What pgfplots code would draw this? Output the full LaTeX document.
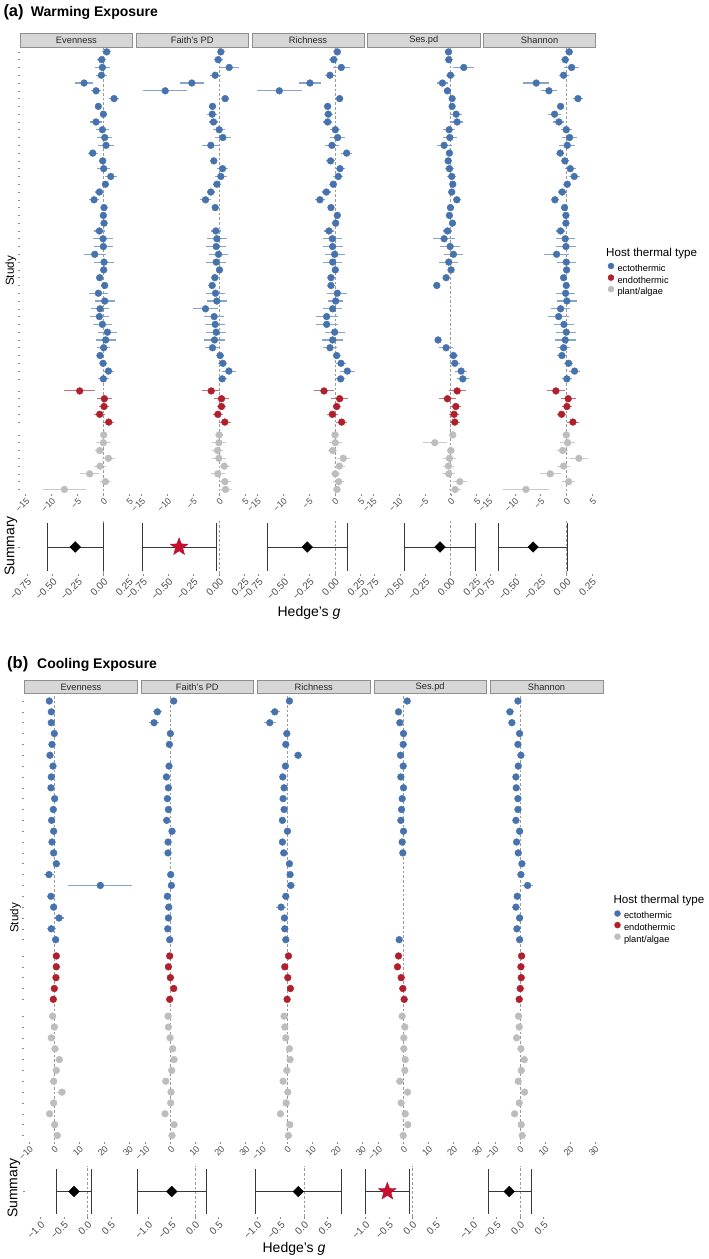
\documentclass[border=0pt]{standalone}
\usepackage{pgfplots}
\pgfplotsset{compat=1.18}
\usepackage{pgfplotstable}
\usepackage{fontspec}
\setmainfont{Liberation Sans}

\definecolor{ecto}{HTML}{4673AE}
\definecolor{endo}{HTML}{B0202C}
\definecolor{plant}{HTML}{BDBDBD}
\definecolor{stripfill}{HTML}{D6D6D6}
\definecolor{stripdraw}{HTML}{8F8F8F}
\definecolor{tickc}{HTML}{4D4D4D}
\definecolor{zeroc}{HTML}{9A9A9A}
\definecolor{starc}{HTML}{C8102E}

\pgfdeclareplotmark{fstar}{%
 \pgfpathmoveto{\pgfpointpolar{90}{\pgfplotmarksize}}%
 \pgfpathlineto{\pgfpointpolar{126}{0.42\pgfplotmarksize}}%
 \pgfpathlineto{\pgfpointpolar{162}{\pgfplotmarksize}}%
 \pgfpathlineto{\pgfpointpolar{198}{0.42\pgfplotmarksize}}%
 \pgfpathlineto{\pgfpointpolar{234}{\pgfplotmarksize}}%
 \pgfpathlineto{\pgfpointpolar{270}{0.42\pgfplotmarksize}}%
 \pgfpathlineto{\pgfpointpolar{306}{\pgfplotmarksize}}%
 \pgfpathlineto{\pgfpointpolar{342}{0.42\pgfplotmarksize}}%
 \pgfpathlineto{\pgfpointpolar{18}{\pgfplotmarksize}}%
 \pgfpathlineto{\pgfpointpolar{54}{0.42\pgfplotmarksize}}%
 \pgfpathclose
 \pgfusepathqfillstroke}

\pgfplotsset{
  fbase/.style={scale only axis, anchor=north west, axis line style={draw=none},
    tick style={draw=black!45, line width=0.5pt}, major tick length=2.2pt, tick align=outside,
    xtick pos=bottom, ytick pos=left, ytick=\empty, yticklabels={},
    xticklabel style={rotate=45, anchor=north east, inner sep=0.6pt, text=tickc},
    every axis title/.style={at={(0.5,1)}, anchor=south, yshift=0.35pt, fill=stripfill, draw=stripdraw, line width=0.7pt, inner sep=0pt, minimum height=13.8pt, font=\fontsize{9.3}{10}\selectfont, text=black!85}},
  forestA/.style={fbase, width=112.8pt, height=446.1pt, xmin=-16.1, xmax=5.68, ymin=-57.8, ymax=-0.5,
    xtick={-15,-10,-5,0,5}, xticklabels={−15,−10,−5,0,5}, xticklabel style={font=\fontsize{9}{10}\selectfont},
    every axis title/.append style={minimum width=112.1pt}},
  forestB/.style={fbase, width=113.3pt, height=447.3pt, xmin=-12, xmax=33.3, ymin=-41.63, ymax=-0.4,
    xtick={-10,0,10,20,30}, xticklabels={−10,0,10,20,30}, xticklabel style={font=\fontsize{9}{10}\selectfont},
    every axis title/.append style={minimum width=112.6pt}},
  summA/.style={fbase, width=112.8pt, height=54pt, xmin=-0.82, xmax=0.29, ymin=0.5, ymax=1.5,
    xtick={-0.75,-0.5,-0.25,0,0.25}, xticklabels={−0.75,−0.50,−0.25,0.00,0.25}, xticklabel style={font=\fontsize{10}{11}\selectfont}},
  summB/.style={fbase, width=104.3pt, height=51pt, xmin=-1.32, xmax=0.90, ymin=0.5, ymax=1.5,
    xtick={-1,-0.5,0,0.5}, xticklabels={−1.0,−0.5,0.0,0.5}, xticklabel style={font=\fontsize{10}{11}\selectfont}},
  zeroline/.style={forget plot, draw=zeroc, line width=0.7pt, dash pattern=on 2.6pt off 2pt},
  ci/.style={forget plot, draw=none, mark=none, error bars/x dir=both, error bars/x explicit,
    error bars/error mark=none, error bars/error bar style={draw=#1, line width=1.1pt, solid}},
  pt/.style={forget plot, only marks, color=#1, mark=*, mark size=3.4pt, mark options={draw=none, fill=#1}},
  sumline/.style={forget plot, draw=black!78, line width=1pt},
  diam/.style={forget plot, only marks, color=black, mark=square*, mark size=3.75pt, mark options={rotate=45, fill=black, draw=black}},
  starm/.style={forget plot, only marks, color=starc, mark=fstar, mark size=9.2pt, mark options={fill=starc, draw=starc!85!black, line width=0.4pt}},
  legbox/.style={hide axis, scale only axis, width=1pt, height=1pt, anchor=north west, xmin=0, xmax=1, ymin=0, ymax=1,
    legend style={at={(0,1)}, anchor=north west, draw=none, fill=none, inner sep=0pt, outer sep=0pt, row sep=0.8pt,
      font=\fontsize{9.3}{10}\selectfont, nodes={inner sep=0.5pt, text height=6.7pt, text depth=1.9pt},
      /tikz/every odd column/.style={column sep=3pt}},
    legend cell align=left,
    legend image code/.code={\draw[##1] plot coordinates {(3pt,3pt)};}},
}

% ---------- (a) Warming: y, Evenness, Faith's PD, Richness, Ses.pd, Shannon (estimate, half CI)
\pgfplotstableread{
y ev eve fa fae ri rie se see sh she
-1 0.64 0.9 0.32 0.8 0.45 0.8 -0.45 0.75 0.51 0.75
-2 -0.32 0.9 -0.19 0.9 -0.26 0.8 -0.39 0.8 -0.26 0.8
-3 -0.19 1.4 1.93 1.8 1.22 1.6 2.51 2.0 0.97 1.5
-4 -0.39 1.0 -0.77 1.05 -0.97 0.95 -0.06 0.8 -0.58 0.95
-5 -3.73 1.7 -5.28 2.3 -4.83 2.15 -1.61 1.0 -5.86 2.5
-6 -1.42 1.0 -10.42 4.2 -10.75 4.4 -0.64 0.75 -3.41 1.6
-7 2.06 1.0 1.16 0.75 0.9 0.7 0.26 0.6 2.19 1.0
-8 -0.97 0.6 -1.29 0.6 -1.42 0.65 0.26 0.6 -1.16 0.65
-9 0 0.6 -1.35 1.0 -1.29 0.85 1.03 1.2 -2.32 1.2
-10 -1.42 1.1 -1.09 0.8 -1.42 0.9 1.22 1.1 -1.48 1.05
-11 -0.19 1.2 0 1.1 0.06 1.0 -0.32 1.2 -0.06 1.05
-12 0.26 1.5 0.71 1.6 0.51 1.5 -0.19 1.35 0.58 1.45
-13 0.51 1.55 -1.61 1.7 -0.58 1.4 -1.29 1.45 0.13 1.5
-14 -2.06 1.0 nan nan 2.25 1.0 -0.26 0.65 -1.22 0.8
-15 -0.13 0.65 -1.03 0.65 -0.84 0.8 -0.51 0.65 -0.32 0.8
-16 0.06 1.2 0.64 1.1 0.97 1.05 -0.26 0.95 0.71 1.05
-17 1.42 1.2 0.32 1.1 0.64 0.95 0.19 0.9 1.48 1.05
-18 0.39 0.65 -0.45 0.8 -0.32 0.8 0.39 0.6 0.13 0.8
-19 -0.77 0.9 -1.61 0.8 -1.67 0.85 0.19 0.6 -0.84 0.85
-20 -1.8 0.95 -2.64 1.0 -2.9 0.95 1.16 0.75 -2.25 0.8
-21 0.13 0.5 -0.77 0.6 -0.77 0.65 -0.06 0.7 -0.39 0.55
-22 0 0.5 nan nan 0.45 0.6 -0.26 0.7 -0.13 0.65
-23 0.13 0.5 nan nan 0.13 0.6 0.32 0.65 -0.13 0.65
-24 -0.77 1.0 -0.64 1.0 -1.16 1.0 -0.64 0.9 -1.16 0.9
-25 -0.06 1.9 -0.45 1.9 -0.51 1.9 -1.29 2.1 -0.26 1.85
-26 0 1.9 -0.58 1.9 -0.45 1.95 -0.13 1.9 -0.13 1.9
-27 -1.67 2.15 -0.13 1.9 -0.06 1.9 0.51 1.9 -1.93 2.4
-28 0.13 1.9 -0.58 1.9 -0.45 1.85 -0.39 1.85 -0.06 1.85
-29 0.06 0.7 0.06 0.65 0.06 0.65 0.06 0.6 0 0.65
-30 -0.71 0.65 -0.84 0.8 -0.77 0.7 -0.9 0.6 -0.58 0.65
-31 0.26 0.7 -1.35 0.8 -0.77 0.7 -2.7 0.4 -0.06 0.6
-32 -0.97 1.85 -0.71 1.9 0.45 1.9 nan nan -0.19 1.9
-33 0.26 1.9 -0.45 1.95 0.13 1.45 nan nan 0.06 2.0
-34 -0.64 1.75 -2.64 2.5 -0.45 1.9 nan nan -1.16 1.85
-35 -0.77 1.9 -0.97 1.9 -1.61 2.15 nan nan -1.54 2.0
-36 -0.19 1.85 -0.77 1.9 -1.61 2.1 nan nan -0.51 1.9
-37 0.77 1.9 -0.58 1.9 -0.06 1.9 nan nan -0.06 1.9
-38 0.45 1.9 -0.9 2.0 -0.45 2.0 -2.45 0.65 -0.26 2.0
-39 0.06 1.3 -1.29 1.45 -0.97 1.3 -0.9 1.3 -0.58 1.2
-40 -0.64 0.85 0.19 0.75 0.32 0.75 0.51 0.95 -0.9 0.95
-41 -0.06 0.8 0.71 0.85 1.16 0.9 0.77 0.95 0.39 0.85
-42 0.97 1.1 1.87 1.3 2.38 1.4 2.0 1.2 1.54 1.1
-43 0 1.05 0.58 0.9 1.09 0.85 2.32 1.2 0.06 0.9
}\aB
\pgfplotstableread{
y ev eve fa fae ri rie se see sh she
-44.55 -4.57 3.0 -1.54 1.75 -2.12 1.85 1.22 1.65 -2.06 1.8
-45.55 0.19 1.45 0.45 1.45 0.9 1.6 -0.64 1.6 0.32 1.45
-46.55 0.13 1.05 0.45 0.9 0.32 0.75 0.97 1.05 0.06 0.9
-47.55 -0.71 1.05 -0.26 1.0 -0.51 1.05 0.64 0.95 -0.97 0.95
-48.55 1.03 1.1 1.09 1.1 1.29 1.1 0.77 1.0 1.22 1.2
}\aR
\pgfplotstableread{
y ev eve fa fae ri rie se see sh she
-50.2 0.06 0.6 0 0.8 0 0.65 0.39 0.6 -0.06 0.6
-51.2 0 1.45 -0.06 1.35 0.06 1.2 -3.09 2.3 0.19 1.5
-52.2 -0.71 0.9 -0.32 1.05 -0.45 0.9 0 0.75 -0.77 1.0
-53.2 0.97 1.3 -0.06 1.4 1.61 1.3 -0.26 1.2 2.38 1.7
-54.2 -0.64 1.1 0.97 1.1 0.84 1.05 -0.45 1.1 -0.58 1.2
-55.2 -2.64 1.8 -0.26 1.4 0.06 0.9 -0.39 1.3 -3.15 2.0
-56.2 0.39 1.0 1.09 1.1 0.71 1.0 1.74 1.4 0.39 1.3
-57.2 -7.53 4.2 1.22 1.3 0.39 0.85 0.84 1.1 -7.85 4.4
}\aG

% ---------- (b) Cooling
\pgfplotstableread{
y ev eve fa fae ri rie se see sh she
-1 -2.0 0.8 1.2 0.8 0.93 0.8 1.47 0.8 -0.8 0.8
-2 -1.2 0.8 -5.33 1.8 -4.93 2.0 -2.0 0.8 -4.0 1.5
-3 -1.2 0.8 -6.67 2.1 -6.93 2.3 -1.47 0.8 -3.2 1.3
-4 0 0.8 -0.13 0.8 -0.13 0.8 0 0.8 -0.13 0.8
-5 -0.93 0.8 -0.53 0.8 -0.53 0.8 -0.13 0.8 -0.8 0.8
-6 -1.73 0.8 nan nan 4.4 1.7 -1.2 0.8 0.4 0.8
-7 -0.53 0.8 -0.67 0.8 -0.67 0.8 -0.13 0.8 -0.67 0.8
-8 -1.2 0.8 -1.73 0.8 -1.73 0.8 -1.07 0.8 -1.6 0.8
-9 -1.33 0.8 -0.93 0.8 -1.2 0.8 0 0.8 -1.47 0.8
-10 0.13 0.8 -1.33 0.8 -1.6 0.8 -0.53 0.8 -0.8 0.8
-11 -0.4 0.8 -0.93 0.8 -1.2 0.8 -0.8 0.8 -0.8 0.8
-12 -1.07 0.8 -1.6 0.8 -1.87 0.8 -1.07 0.8 -1.6 0.8
-13 -0.27 0.8 0.53 0.8 0.13 0.8 0 0.8 -0.13 0.8
-14 -0.93 0.8 -1.07 0.8 -1.87 0.8 -0.53 0.8 -1.33 0.8
-15 -0.27 0.8 -1.07 0.8 -1.33 0.8 -0.27 0.8 -0.67 0.8
-16 0.8 1.5 nan nan 0.93 1.3 nan nan 0.8 1.3
-17 -2.13 1.9 0 1.0 1.2 1.3 nan nan 0.4 1.3
-18 18.4 12.8 0.27 1.0 1.47 1.5 nan nan 3.07 2.3
-19 -1.33 1.7 -1.33 1.0 -0.53 1.4 nan nan -1.07 1.3
-20 -0.27 1.3 -0.8 1.0 -2.4 1.9 nan nan -1.6 1.5
-21 1.87 2.0 -0.93 1.0 -1.07 1.3 nan nan -0.13 1.3
-22 -1.2 1.8 -1.2 1.0 -0.93 1.3 nan nan -1.2 1.3
-23 0.53 1.5 -0.4 1.0 -0.53 1.2 -1.73 0.8 -0.13 1.3
}\bB
\pgfplotstableread{
y ev eve fa fae ri rie se see sh she
-24.5 0.8 0.8 -0.4 0.8 0.53 0.8 -2.0 0.8 0.67 0.8
-25.5 0.8 0.8 -0.93 0.8 -0.93 0.8 -2.4 0.8 0.4 0.8
-26.5 0.67 0.8 -0.13 0.8 0.27 0.8 -0.93 0.8 0.53 0.8
-27.5 0 0.8 1.2 0.8 1.33 0.8 -0.27 0.8 0.13 0.8
-28.5 -0.4 0.8 -0.4 0.8 0 0.8 0.27 0.8 -0.27 0.8
}\bR
\pgfplotstableread{
y ev eve fa fae ri rie se see sh she
-30.05 -0.67 0.8 -1.07 0.8 -1.2 0.8 -0.53 0.8 -0.53 0.8
-31.05 0 0.8 -0.93 0.8 -0.93 0.8 0.53 0.8 -0.27 0.8
-32.05 -1.2 1.0 -0.27 0.8 -0.53 0.8 0.13 0.8 -1.33 1.0
-33.05 0.27 0.8 0.8 0.8 0.93 0.8 0.13 0.8 0.4 0.8
-34.05 2.0 1.3 1.33 1.3 1.2 0.8 0.67 0.8 1.73 1.3
-35.05 0.8 0.8 0.4 0.8 -0.13 0.8 0.53 0.8 0.53 0.8
-36.05 -0.27 0.8 -2.0 0.8 -1.6 0.8 -1.47 0.8 -0.67 0.8
-37.05 3.07 1.8 0.13 0.8 0.27 0.8 1.6 1.2 1.87 1.3
-38.05 -0.27 0.8 0 0.8 -0.4 0.8 -0.93 0.8 -0.27 0.8
-39.05 -1.87 1.3 -2.27 0.8 -2.67 1.3 0.67 0.8 -2.13 0.8
-40.05 0.13 0.8 1.33 0.8 1.07 0.8 1.73 0.8 0.53 0.8
-41.05 1.2 0.8 0.53 0.8 0.53 0.8 -0.13 0.8 0.93 0.8
}\bG

% #1 style, #2 left, #3 top, #4 column, #5 strip title, #6 #7 #8 tables
\newcommand\forest[8]{%
 \begin{axis}[#1, at={(#2pt,-#3pt)}, title={#5}]
  \addplot[zeroline] coordinates {(0,-100) (0,100)};
  \addplot[ci=ecto!65!white] table[x=#4, y=y, x error=#4e] {#6};
  \addplot[ci=endo!65!white] table[x=#4, y=y, x error=#4e] {#7};
  \addplot[ci=plant!80!white] table[x=#4, y=y, x error=#4e] {#8};
  \addplot[pt=ecto] table[x=#4, y=y] {#6};
  \addplot[pt=endo] table[x=#4, y=y] {#7};
  \addplot[pt=plant] table[x=#4, y=y] {#8};
 \end{axis}}

% #1 style, #2 left, #3 top, #4 lower, #5 estimate, #6 upper, #7 mark style
\newcommand\summ[7]{%
 \begin{axis}[#1, at={(#2pt,-#3pt)}]
  \addplot[zeroline] coordinates {(0,0.5) (0,1.5)};
  \addplot[sumline] coordinates {(#4,1) (#6,1)};
  \addplot[sumline] coordinates {(#4,0.56) (#4,1.44)};
  \addplot[sumline] coordinates {(#6,0.56) (#6,1.44)};
  \addplot[#7] coordinates {(#5,1)};
 \end{axis}}

\begin{document}
\begin{tikzpicture}
% ================= (a) =================
\node[anchor=base west, inner sep=0pt] at (3.3pt,-16.5pt) {\fontsize{16.5}{18}\selectfont\bfseries (a)};
\node[anchor=base west, inner sep=0pt] at (30.7pt,-16.5pt) {\fontsize{14}{16}\selectfont\bfseries Warming Exposure};

\forest{forestA, ytick={-57.2,-56.2,-55.2,-54.2,-53.2,-52.2,-51.2,-50.2,-48.55,-47.55,-46.55,-45.55,-44.55,-43,-42,-41,-40,-39,-38,-37,-36,-35,-34,-33,-32,-31,-30,-29,-28,-27,-26,-25,-24,-23,-22,-21,-20,-19,-18,-17,-16,-15,-14,-13,-12,-11,-10,-9,-8,-7,-6,-5,-4,-3,-2,-1}, yticklabels={}}{20}{48}{ev}{Evenness}{\aB}{\aR}{\aG}
\forest{forestA}{135.8}{48}{fa}{Faith\char39 s PD}{\aB}{\aR}{\aG}
\forest{forestA}{251.6}{48}{ri}{Richness}{\aB}{\aR}{\aG}
\forest{forestA}{367.4}{48}{se}{Ses.pd}{\aB}{\aR}{\aG}
\forest{forestA}{483.2}{48}{sh}{Shannon}{\aB}{\aR}{\aG}

\summ{summA, ytick={1}, yticklabels={}}{20}{520}{-0.551}{-0.276}{-0.003}{diam}
\summ{summA}{135.8}{520}{-0.751}{-0.394}{-0.023}{starm}
\summ{summA}{251.6}{520}{-0.666}{-0.273}{0.125}{diam}
\summ{summA}{367.4}{520}{-0.457}{-0.105}{0.239}{diam}
\summ{summA}{483.2}{520}{-0.673}{-0.329}{0.01}{diam}

\node[rotate=90, font=\fontsize{11.6}{13}\selectfont] at (11pt,-271pt) {Study};
\node[rotate=90, font=\fontsize{14}{16}\selectfont] at (11pt,-546pt) {Summary};
\node[font=\fontsize{14}{16}\selectfont] at (309pt,-613pt) {Hedge\char39 s \textit{g}};

\node[anchor=west, inner sep=0pt, font=\fontsize{11.6}{13}\selectfont] at (606pt,-253pt) {Host thermal type};
\begin{axis}[legbox, at={(608pt,-263pt)}]
 \addlegendimage{only marks, color=ecto, mark=*, mark size=3pt, mark options={draw=none, fill=ecto}}
 \addlegendentry{ectothermic}
 \addlegendimage{only marks, color=endo, mark=*, mark size=3pt, mark options={draw=none, fill=endo}}
 \addlegendentry{endothermic}
 \addlegendimage{only marks, color=plant, mark=*, mark size=3pt, mark options={draw=none, fill=plant}}
 \addlegendentry{plant/algae}
\end{axis}

% ================= (b) =================
\node[anchor=base west, inner sep=0pt] at (7pt,-668.5pt) {\fontsize{16.5}{18}\selectfont\bfseries (b)};
\node[anchor=base west, inner sep=0pt] at (37pt,-668.5pt) {\fontsize{14}{16}\selectfont\bfseries Cooling Exposure};

\forest{forestB, ytick={-41.05,-40.05,-39.05,-38.05,-37.05,-36.05,-35.05,-34.05,-33.05,-32.05,-31.05,-30.05,-28.5,-27.5,-26.5,-25.5,-24.5,-23,-22,-21,-20,-19,-18,-17,-16,-15,-14,-13,-12,-11,-10,-9,-8,-7,-6,-5,-4,-3,-2,-1}, yticklabels={}}{24.3}{694.5}{ev}{Evenness}{\bB}{\bR}{\bG}
\forest{forestB}{140.7}{694.5}{fa}{Faith\char39 s PD}{\bB}{\bR}{\bG}
\forest{forestB}{257.1}{694.5}{ri}{Richness}{\bB}{\bR}{\bG}
\forest{forestB}{373.5}{694.5}{se}{Ses.pd}{\bB}{\bR}{\bG}
\forest{forestB}{489.9}{694.5}{sh}{Shannon}{\bB}{\bR}{\bG}

\summ{summB, ytick={1}, yticklabels={}}{25.3}{1166}{-0.666}{-0.283}{0.094}{diam}
\summ{summB}{133}{1166}{-1.219}{-0.496}{0.249}{diam}
\summ{summB}{242}{1166}{-1.043}{-0.121}{0.80}{diam}
\summ{summB}{350.3}{1166}{-1.006}{-0.532}{-0.064}{starm}
\summ{summB}{458}{1166}{-0.674}{-0.228}{0.234}{diam}

\node[rotate=90, font=\fontsize{11.6}{13}\selectfont] at (15.5pt,-918pt) {Study};
\node[rotate=90, font=\fontsize{14}{16}\selectfont] at (14pt,-1188pt) {Summary};
\node[font=\fontsize{14}{16}\selectfont] at (294pt,-1249pt) {Hedge\char39 s \textit{g}};

\node[anchor=west, inner sep=0pt, font=\fontsize{11.6}{13}\selectfont] at (613.3pt,-900pt) {Host thermal type};
\begin{axis}[legbox, at={(614.5pt,-910.5pt)}]
 \addlegendimage{only marks, color=ecto, mark=*, mark size=3pt, mark options={draw=none, fill=ecto}}
 \addlegendentry{ectothermic}
 \addlegendimage{only marks, color=endo, mark=*, mark size=3pt, mark options={draw=none, fill=endo}}
 \addlegendentry{endothermic}
 \addlegendimage{only marks, color=plant, mark=*, mark size=3pt, mark options={draw=none, fill=plant}}
 \addlegendentry{plant/algae}
\end{axis}

\pgfresetboundingbox
\path[use as bounding box] (0pt,0pt) rectangle (709pt,-1259pt);
\end{tikzpicture}
\end{document}
